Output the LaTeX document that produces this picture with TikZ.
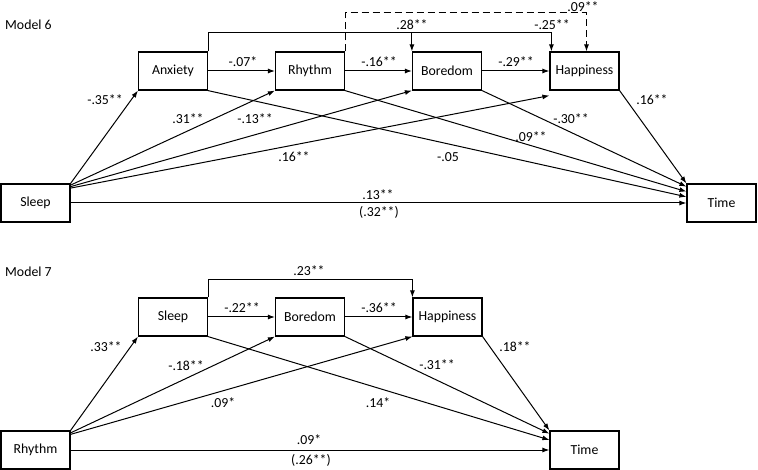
\documentclass[tikz,border=0pt]{standalone}
\usepackage{fontspec}
\setmainfont{Carlito}
\usetikzlibrary{arrows.meta}

\begin{document}
\begin{tikzpicture}[x=1pt,y=-1pt,
    var/.style={draw,line width=1.2pt,minimum width=69pt,minimum height=38pt,inner sep=0pt},
    arr/.style={-{Latex[length=7pt,width=5pt]},line width=1pt},
    coef/.style={inner sep=0pt},
    font=\fontsize{13.8}{16}\selectfont
  ]
  \useasboundingbox (0,0) rectangle (758,470);

  % Model 6
  \node[coef,anchor=west] (m6) at (5,25) {Model 6};
  \node[var] (anx) at (173,71) {Anxiety};
  \node[var] (rhy) at (310,71) {Rhythm};
  \node[var] (bor) at (447,71) {Boredom};
  \node[var] (hap) at (584.5,71) {Happiness};
  \node[var] (slp) at (35.5,203) {Sleep};
  \node[var] (tim) at (721.5,203) {Time};
  \coordinate (top6) at (0,33);
  \coordinate (dash6) at (0,13);

  \draw[arr] (anx) -- (rhy);
  \draw[arr] (rhy) -- (bor);
  \draw[arr] (bor) -- (hap);
  \draw[arr] (slp.north east) -- (anx.south west);
  \draw[arr] (slp.27) -- (rhy.south west);
  \draw[arr] (slp.25) -- (bor.south west);
  \draw[arr] (slp.23) -- ([yshift=-5pt]hap.south west);
  \draw[arr] (slp) -- (tim);
  \draw[arr] (anx.south east) -- (tim.170);
  \draw[arr] (rhy.south east) -- (tim.162);
  \draw[arr] (bor.south east) -- (tim.155);
  \draw[arr] (hap.south east) -- (tim.north west);
  \draw[arr] (anx.north east) -- (anx.north east |- top6) -| ([xshift=2pt]hap.north west);
  \draw[arr] (bor.north west |- top6) -- (bor.north west);
  \draw[arr,dash pattern=on 7pt off 4pt] (rhy.north east) -- (rhy.north east |- dash6) -| ([xshift=2pt]hap.north);

  \node[coef] (c1) at (105,100) {-.35**};
  \node[coef] (c2) at (188,119) {.31**};
  \node[coef] (c3) at (255,119) {-.13**};
  \node[coef] (c4) at (294,157) {.16**};
  \node[coef] (c5) at (243,62) {-.07*};
  \node[coef] (c6) at (379,62) {-.16**};
  \node[coef] (c7) at (516,62) {-.29**};
  \node[coef] (c8) at (412,25) {.28**};
  \node[coef] (c9) at (552,25) {-.25**};
  \node[coef] (c10) at (583,7) {.09**};
  \node[coef] (c11) at (652,100) {.16**};
  \node[coef] (c12) at (571,119) {-.30**};
  \node[coef] (c13) at (531,137) {.09**};
  \node[coef] (c14) at (448,157) {-.05};
  \node[coef] (c15) at (378,195) {.13**};
  \node[coef] (c16) at (379,212) {(.32**)};

  % Model 7
  \node[coef,anchor=west] (m7) at (5,272) {Model 7};
  \node[var] (slp7) at (173,317) {Sleep};
  \node[var] (bor7) at (310,317) {Boredom};
  \node[var] (hap7) at (447.5,317) {Happiness};
  \node[var] (rhy7) at (35.5,450) {Rhythm};
  \node[var] (tim7) at (584.5,450) {Time};
  \coordinate (top7) at (0,280);

  \draw[arr] (slp7) -- (bor7);
  \draw[arr] (bor7) -- (hap7);
  \draw[arr] (rhy7.north east) -- (slp7.south west);
  \draw[arr] (rhy7.26) -- (bor7.south west);
  \draw[arr] (rhy7.24) -- (hap7.south west);
  \draw[arr] (rhy7) -- (tim7);
  \draw[arr] (slp7.south east) -- (tim7.164);
  \draw[arr] (bor7.south east) -- (tim7.155);
  \draw[arr] (hap7.south east) -- (tim7.north west);
  \draw[arr] (slp7.north east) -- (slp7.north east |- top7) -| (hap7.north west);

  \node[coef] (d1) at (309,271) {.23**};
  \node[coef] (d2) at (242,308) {-.22**};
  \node[coef] (d3) at (379,308) {-.36**};
  \node[coef] (d4) at (106,347) {.33**};
  \node[coef] (d5) at (186,366) {-.18**};
  \node[coef] (d6) at (223,403) {.09*};
  \node[coef] (d7) at (378,403) {.14*};
  \node[coef] (d8) at (437,365) {-.31**};
  \node[coef] (d9) at (515,347) {.18**};
  \node[coef] (d10) at (309,440) {.09*};
  \node[coef] (d11) at (311,460) {(.26**)};

\end{tikzpicture}
\end{document}
